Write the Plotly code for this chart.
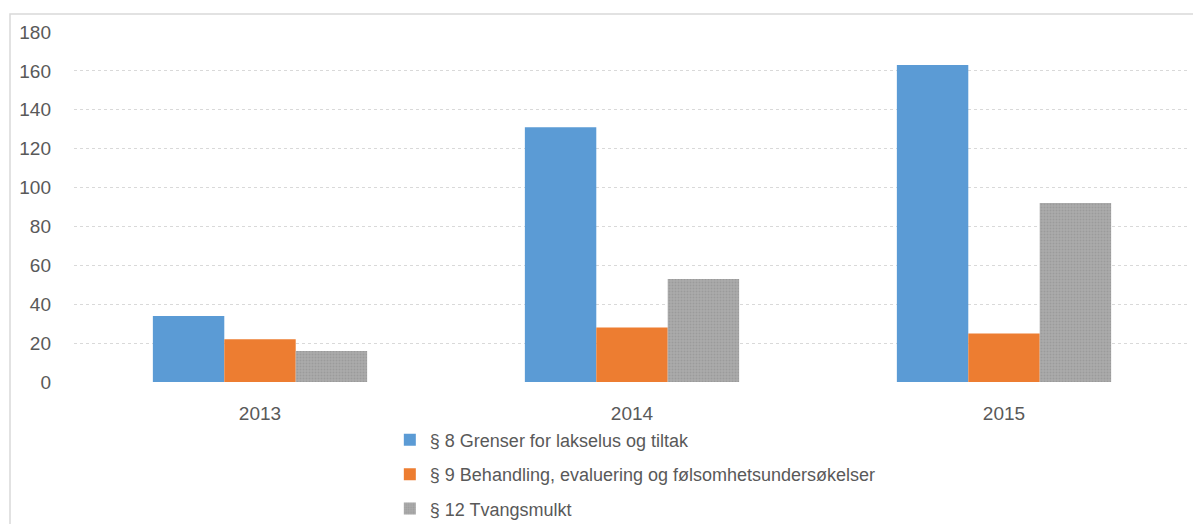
import plotly.graph_objects as go

years = ["2013", "2014", "2015"]
series_names = [
    "§ 8 Grenser for lakselus og tiltak",
    "§ 9 Behandling, evaluering og følsomhetsundersøkelser",
    "§ 12 Tvangsmulkt",
]
values_s8 = [34, 131, 163]
values_s9 = [22, 28, 25]
values_s12 = [16, 53, 92]
y_ticks = [0, 20, 40, 60, 80, 100, 120, 140, 160, 180]

colors = ["#5B9BD5", "#ED7D31", "#A5A5A5"]
font_family = "Liberation Sans, Arial, sans-serif"
text_color = "#595959"

# the page body has an 8px margin, so the figure is sized/offset to compensate
fig = go.Figure()
for i, (name, vals) in enumerate(zip(series_names, [values_s8, values_s9, values_s12])):
    marker = dict(color=colors[i], line=dict(width=0))
    if i == 2:
        marker["pattern"] = dict(shape=".", fgcolor="#8c8c8c", bgcolor="#ababab",
                                 size=3, solidity=0.35)
    fig.add_trace(go.Bar(x=years, y=vals, name=name, marker=marker,
                         legendgroup=f"g{i}"))

fig.update_layout(
    width=1193, height=516,
    margin=dict(l=66, r=11, t=24, b=142, autoexpand=False),
    paper_bgcolor="white", plot_bgcolor="white",
    barmode="group", bargap=0.424, bargroupgap=0,
    font=dict(family=font_family, size=18, color=text_color),
    showlegend=True,
    legend=dict(orientation="v", x=0.283, xanchor="left", y=-0.113, yanchor="top",
                font=dict(size=18, color=text_color), tracegroupgap=8,
                itemwidth=30, bgcolor="rgba(0,0,0,0)"),
    xaxis=dict(showgrid=False, showline=False, ticks="", ticklabelstandoff=18,
               tickfont=dict(size=19, color=text_color)),
    yaxis=dict(range=[0, 180], tickvals=y_ticks, showgrid=True,
               gridcolor="#d9d9d9", griddash="dot", gridwidth=1,
               zeroline=False, showline=False, ticks="",
               ticklabelstandoff=22, tickfont=dict(size=19, color=text_color)),
    shapes=[dict(type="rect", xref="paper", yref="paper",
                 x0=(10 - 74) / 1116, x1=1.1, y0=-0.6, y1=1 + 18 / 350,
                 line=dict(color="#d9d9d9", width=1.5), layer="below")],
)

fig.write_html("out.html")
